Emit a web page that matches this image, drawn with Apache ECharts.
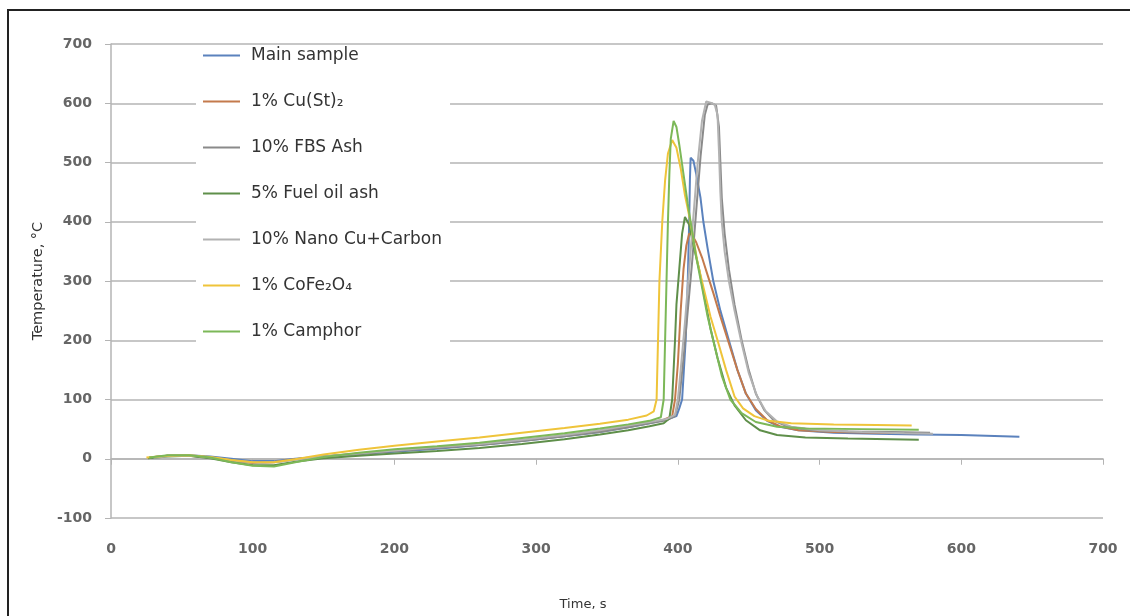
<!DOCTYPE html>
<html>
<head>
<meta charset="utf-8">
<title>Temperature vs time</title>
<script src="https://cdn.jsdelivr.net/npm/echarts@6/dist/echarts.min.js"></script>
<style>
  html, body {margin: 0; padding: 0; background: #fff;}
  #chart {width: 1130px; height: 616px;}
</style>
</head>
<body>
<div id="chart"></div>
<script>
// series names, in legend order
let seriesNames = ['Main sample', '1% Cu(St)₂', '10% FBS Ash', '5% Fuel oil ash', '10% Nano Cu+Carbon', '1% CoFe₂O₄', '1% Camphor']
let seriesColors = ['#5b82bd', '#c47a4c', '#8a8a8a', '#5f8f4a', '#b2b2b2', '#efc43a', '#7cb858']

// [time s, temperature C]
let mainSample = [[28,2],[40,5],[55,6],[70,4],[85,0],[100,-4],[115,-4],[130,0],[150,4],[175,8],[200,12],[230,17],[260,23],[290,30],[320,38],[345,45],[365,53],[380,60],[392,66],[399,72],[401,85],[403,100],[405.5,200],[407,300],[408,400],[408.5,470],[409,508],[411,503],[413,480],[416,440],[418,400],[421,355],[425,300],[430,250],[436,200],[442,150],[448,110],[455,82],[463,64],[472,54],[485,48],[510,44],[540,42],[570,41],[600,40],[641,37]]
let cuSt2 = [[27,2],[40,5],[55,5],[70,2],[85,-3],[100,-7],[115,-6],[130,-1],[150,4],[175,9],[200,14],[230,19],[260,24],[290,31],[320,39],[345,47],[365,55],[380,61],[390,66],[396,72],[398,100],[400,160],[402,250],[404,320],[406,360],[408,380],[410,378],[413,365],[417,340],[421,310],[425,280],[430,240],[436,195],[442,150],[448,110],[455,84],[463,65],[472,55],[485,48],[510,45],[540,44],[570,43]]
let fbsAsh = [[27,2],[40,5],[55,5],[70,2],[85,-3],[100,-6],[115,-5],[130,-1],[150,4],[175,8],[200,13],[230,18],[260,23],[290,30],[320,38],[345,45],[365,53],[380,60],[392,65],[398,72],[401,100],[404,170],[407,250],[410,330],[413,420],[416,510],[419,580],[421,598],[424,600],[427,596],[429,560],[430,500],[431,440],[433,380],[436,320],[440,260],[445,200],[450,150],[455,110],[461,82],[468,64],[478,54],[495,48],[520,46],[550,45],[578,44]]
let fuelOilAsh = [[26,1],[40,4],[55,5],[70,1],[85,-6],[100,-11],[115,-11],[130,-5],[150,1],[175,5],[200,9],[230,13],[260,18],[290,25],[320,33],[345,41],[365,48],[380,55],[390,60],[394,68],[396,100],[398,200],[399,260],[401,320],[403,380],[405,408],[408,395],[411,360],[415,320],[419,270],[423,220],[428,170],[434,120],[440,90],[448,65],[458,48],[470,40],[490,36],[520,34],[570,32]]
let nanoCuCarbon = [[30,2],[45,5],[60,5],[75,1],[90,-4],[105,-7],[120,-5],[135,0],[155,5],[180,10],[200,14],[230,20],[260,25],[290,32],[320,40],[345,48],[365,56],[380,62],[392,67],[398,74],[400,100],[402,150],[405,230],[408,320],[411,410],[414,500],[417,570],[420,603],[423,601],[426,598],[428,580],[429,520],[430,450],[431,400],[433,350],[436,300],[440,250],[445,195],[450,145],[456,105],[462,80],[470,63],[480,54],[500,48],[530,45],[560,43],[580,42]]
let coFe2O4 = [[25,2],[40,5],[55,6],[70,3],[85,-2],[100,-6],[115,-6],[130,-1],[150,7],[175,15],[200,22],[230,29],[260,36],[290,44],[320,52],[345,59],[365,66],[378,73],[383,80],[385,100],[386,200],[387,300],[389,400],[391,470],[393,515],[396,538],[399,525],[402,490],[405,445],[408,410],[411,370],[414,330],[418,290],[423,240],[428,200],[434,150],[440,105],[446,85],[454,72],[464,64],[480,60],[510,58],[540,57],[565,56]]
let camphor = [[27,2],[40,6],[55,6],[70,2],[85,-6],[100,-12],[115,-13],[130,-6],[150,3],[175,10],[200,16],[230,21],[260,27],[290,35],[320,43],[345,51],[365,58],[380,64],[388,70],[390,100],[391,200],[392,300],[393,400],[394,480],[395,540],[397,570],[399,560],[401,530],[404,480],[407,430],[410,385],[413,340],[417,290],[421,240],[426,190],[431,140],[437,100],[445,77],[455,62],[470,54],[490,51],[530,50],[570,49]]

let seriesData = [mainSample, cuSt2, fbsAsh, fuelOilAsh, nanoCuCarbon, coFe2O4, camphor]

// axis ticks
let xTicks = {min: 0, max: 700, step: 100}
let yTicks = {min: -100, max: 700, step: 100}

let gridColor = '#b4b4b4'
let labelStyle = {fontFamily: 'DejaVu Sans', fontSize: 14, fontWeight: 'bold', color: '#666'}

let series = seriesNames.map((name, i) => {
  return {
    name: name,
    type: 'line',
    data: seriesData[i],
    symbol: 'none',
    smooth: false,
    lineStyle: {width: 2, color: seriesColors[i]},
    itemStyle: {color: seriesColors[i]}
  }
})

let option = {
  animation: false,
  backgroundColor: '#fff',
  grid: {left: 111, right: 27, top: 44, bottom: 34},
  legend: {
    orient: 'vertical',
    left: 196,
    top: 45,
    padding: [2, 8, 2, 7],
    backgroundColor: '#fff',
    itemWidth: 37,
    itemHeight: 14,
    itemGap: 29,
    icon: 'path://M0,6 L37,6 L37,8 L0,8 Z',
    textStyle: {fontFamily: 'DejaVu Sans', fontSize: 17, color: '#333', padding: [0, 0, 0, 6]},
    data: seriesNames
  },
  xAxis: {
    type: 'value',
    min: xTicks.min,
    max: xTicks.max,
    interval: xTicks.step,
    name: 'Time, s',
    nameLocation: 'middle',
    nameGap: 80,
    nameTextStyle: {fontFamily: 'DejaVu Sans', fontSize: 13, color: '#333', padding: [0, 48, 0, 0]},
    axisLine: {show: true, onZero: true, lineStyle: {color: gridColor, width: 1.5}},
    axisTick: {show: true, length: 6, lineStyle: {color: gridColor}},
    axisLabel: Object.assign({margin: 24}, labelStyle),
    splitLine: {show: false}
  },
  yAxis: {
    type: 'value',
    min: yTicks.min,
    max: yTicks.max,
    interval: yTicks.step,
    name: 'Temperature, °C',
    nameLocation: 'middle',
    nameGap: 56,
    nameTextStyle: {fontFamily: 'DejaVu Sans', fontSize: 14.5, color: '#333'},
    axisLine: {show: true, lineStyle: {color: gridColor, width: 1.5}},
    axisTick: {show: true, length: 6, lineStyle: {color: gridColor}},
    axisLabel: Object.assign({margin: 19}, labelStyle),
    splitLine: {show: true, lineStyle: {color: gridColor, width: 1.5}}
  },
  graphic: [
    {
      // outer frame of the picture
      type: 'rect',
      shape: {x: 8, y: 10, width: 1200, height: 700},
      style: {fill: 'none', stroke: '#222', lineWidth: 2},
      silent: true
    }
  ],
  series: series
}

let myChart = echarts.init(document.getElementById('chart'))
myChart.setOption(option)
window.onresize = myChart.resize
</script>
</body>
</html>
